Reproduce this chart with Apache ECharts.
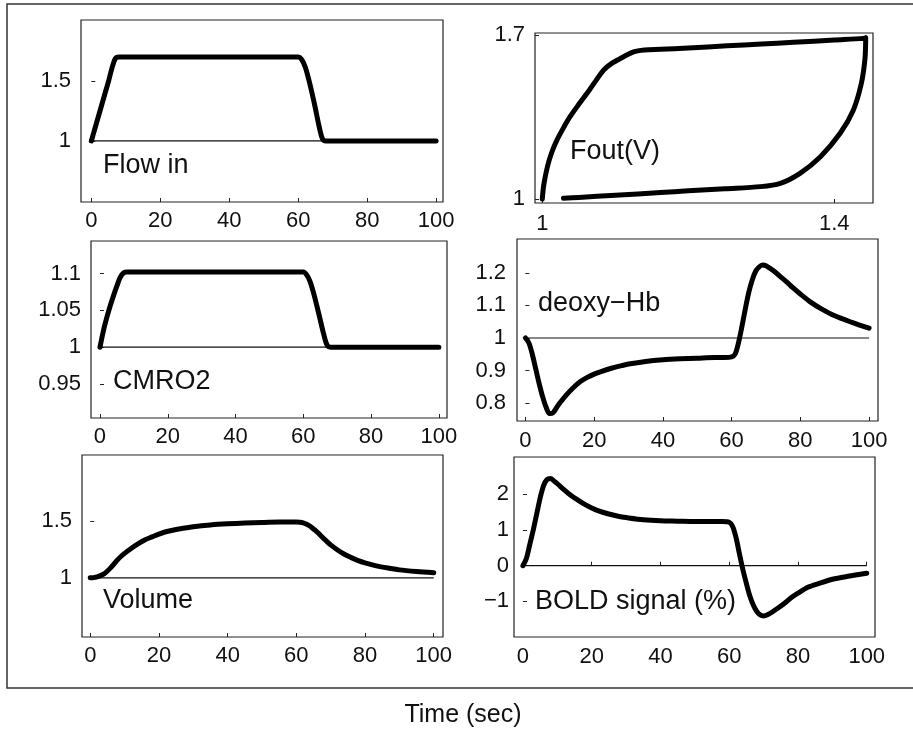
<!DOCTYPE html>
<html><head><meta charset="utf-8">
<script src="https://cdn.jsdelivr.net/npm/echarts@6/dist/echarts.min.js"></script>
<style>html,body{margin:0;padding:0;background:#fff}#c{width:913px;height:732px}</style>
</head><body><div id="c"></div>
<script>
// ---- data ----
const time = [0,1,2,3,4,5,6,7,8,9,10,12,14,16,18,20,22,25,28,30,35,40,45,50,55,58,60,61,62,63,64,65,66,67,68,69,70,72,74,76,78,80,83,86,90,95,100];
const flowIn = [1.0,1.10,1.20,1.30,1.40,1.50,1.61,1.69,1.70,1.70,1.70,1.70,1.70,1.70,1.70,1.70,1.70,1.70,1.70,1.70,1.70,1.70,1.70,1.70,1.70,1.70,1.70,1.68,1.62,1.52,1.40,1.27,1.13,1.02,1.0,1.0,1.0,1.0,1.0,1.0,1.0,1.0,1.0,1.0,1.0,1.0,1.0];
const cmro2 = [1.0,1.022,1.04,1.056,1.07,1.083,1.095,1.101,1.102,1.102,1.102,1.102,1.102,1.102,1.102,1.102,1.102,1.102,1.102,1.102,1.102,1.102,1.102,1.102,1.102,1.102,1.102,1.098,1.089,1.074,1.056,1.037,1.018,1.003,1.0,1.0,1.0,1.0,1.0,1.0,1.0,1.0,1.0,1.0,1.0,1.0,1.0];
const volume = [1.0,1.002,1.008,1.02,1.035,1.06,1.09,1.125,1.16,1.19,1.215,1.26,1.30,1.335,1.36,1.385,1.405,1.425,1.44,1.45,1.465,1.475,1.482,1.487,1.49,1.49,1.49,1.489,1.484,1.472,1.454,1.43,1.405,1.375,1.345,1.317,1.29,1.245,1.207,1.178,1.152,1.132,1.108,1.09,1.07,1.055,1.044];
const deoxyHb = [1.0,0.985,0.95,0.905,0.86,0.82,0.788,0.768,0.77,0.785,0.80,0.826,0.848,0.866,0.879,0.889,0.897,0.907,0.915,0.92,0.928,0.933,0.936,0.938,0.94,0.94,0.942,0.95,0.985,1.035,1.09,1.14,1.178,1.205,1.218,1.224,1.222,1.208,1.19,1.172,1.153,1.135,1.11,1.09,1.068,1.048,1.03];
const bold = [0,0.2,0.6,1.0,1.45,1.9,2.25,2.42,2.45,2.38,2.3,2.13,1.97,1.84,1.72,1.62,1.54,1.45,1.38,1.35,1.29,1.26,1.25,1.24,1.24,1.24,1.22,1.1,0.78,0.32,-0.12,-0.5,-0.85,-1.1,-1.28,-1.38,-1.41,-1.33,-1.2,-1.06,-0.9,-0.77,-0.6,-0.5,-0.38,-0.29,-0.21];
const foutV = [1.0,1.002,1.007,1.013,1.02,1.03,1.038,1.05,1.061,1.072,1.084,1.095,1.107,1.125,1.14,1.162,1.2,1.253,1.3,1.344,1.4,1.44,1.443,1.442,1.437,1.426,1.408,1.381,1.353,1.326,1.299,1.25,1.2,1.162,1.1,1.05,1.029];
const foutF = [1.0,1.06,1.138,1.2,1.252,1.31,1.352,1.405,1.451,1.5,1.551,1.58,1.601,1.629,1.637,1.64,1.646,1.655,1.663,1.67,1.68,1.687,1.69,1.60,1.494,1.38,1.281,1.181,1.11,1.067,1.053,1.044,1.035,1.028,1.016,1.007,1.003];
const timeTicks = [0,20,40,60,80,100];
const flowTicks = [1,1.5];
const cmroTicks = [0.95,1,1.05,1.1];
const deoxyTicks = [0.8,0.9,1,1.1,1.2];
const volTicks = [1,1.5];
const boldTicks = [-1,0,1,2];
const foutXTicks = [1,1.4];
const foutYTicks = [1,1.7];
const baseSpan = [0,100];
const panelNames = ['Flow in','Fout(V)','CMRO2','deoxy\u2212Hb','Volume','BOLD signal (%)'];
const xTitle = 'Time (sec)';

// ---- layout ----
const FONT = '"Liberation Sans", Arial, Helvetica, sans-serif';
const panels = [
  {grid:{left:81,top:20,width:362,height:182}, xr:[-3,102], yr:[0.49,2.01], xt:timeTicks, yt:flowTicks, ys:time.map((x,i)=>[x,flowIn[i]]), base:1, lx:103, ly:167, ym:10, xm:8},
  {grid:{left:535,top:33,width:338,height:170}, xr:[0.99,1.453], yr:[0.983,1.71], xt:foutXTicks, yt:foutYTicks, ys:foutV.map((x,i)=>[x,foutF[i]]), base:null, lx:570, ly:153, ym:10, xm:10},
  {grid:{left:91,top:241,width:356,height:177}, xr:[-2.65,102.4], yr:[0.904,1.144], xt:timeTicks, yt:cmroTicks, ys:time.map((x,i)=>[x,cmro2[i]]), base:1, lx:113, ly:383, ym:10, xm:8},
  {grid:{left:517,top:239,width:361,height:182}, xr:[-2.45,102.6], yr:[0.745,1.304], xt:timeTicks, yt:deoxyTicks, ys:time.map((x,i)=>[x,deoxyHb[i]]), base:1, lx:538, ly:305, ym:11, xm:9},
  {grid:{left:82,top:455,width:361,height:182}, xr:[-2.4,102.7], yr:[0.48,2.08], xt:timeTicks, yt:volTicks, ys:time.map((x,i)=>[x,volume[i]]), base:1, lx:103, ly:602, ym:10, xm:8},
  {grid:{left:514,top:457,width:361,height:180}, xr:[-2.6,102.4], yr:[-2.0,3.05], xt:timeTicks, yt:boldTicks, ys:time.map((x,i)=>[x,bold[i]]), base:0, lx:535, ly:603, ym:5, xm:9}
];

const fmt = v => String(v).replace('-', '\u2212');
const grid=[], xAxis=[], yAxis=[], series=[], graphic=[];
panels.forEach((p,i)=>{
  grid.push(Object.assign({show:true, borderColor:'#222', borderWidth:1.2, backgroundColor:'#fff'}, p.grid));
  xAxis.push({type:'value', gridIndex:i, min:p.xr[0], max:p.xr[1],
    axisLine:{show:false}, splitLine:{show:false},
    axisTick:{inside:true, length:4, lineStyle:{color:'#222'}, customValues:p.xt},
    axisLabel:{customValues:p.xt, formatter:fmt, color:'#111', fontSize:22, fontFamily:FONT, margin:p.xm}});
  yAxis.push({type:'value', gridIndex:i, min:p.yr[0], max:p.yr[1],
    axisLine:{show:false}, splitLine:{show:false},
    axisTick:{inside:true, length:4, lineStyle:{color:'#222'}, customValues:p.yt},
    axisLabel:{customValues:p.yt, formatter:fmt, color:'#111', fontSize:22, fontFamily:FONT, margin:p.ym}});
  if (p.base !== null) {
    series.push({type:'line', xAxisIndex:i, yAxisIndex:i, data:baseSpan.map(x=>[x,p.base]), showSymbol:false, silent:true,
      lineStyle:{color:'#111', width:1.2}, z:2});
  }
  series.push({type:'line', xAxisIndex:i, yAxisIndex:i, data:p.ys, showSymbol:false, smooth:0.3, silent:true,
    lineStyle:{color:'#000', width:5, cap:'round', join:'round'}, z:3});
  graphic.push({type:'text', left:p.lx, top:p.ly-15, style:{text:panelNames[i], font:'27px '+FONT, fill:'#111'}, z:10});
});
graphic.push({type:'rect', shape:{x:7,y:4,width:960,height:684}, style:{fill:'none', stroke:'#333', lineWidth:1.5}, z:-1});
graphic.push({type:'text', x:463, y:715, style:{text:xTitle, font:'25px '+FONT, fill:'#111', textAlign:'center', textVerticalAlign:'middle'}, z:10});

const chart = echarts.init(document.getElementById('c'), null, {renderer:'canvas'});
chart.setOption({animation:false, backgroundColor:'#fff', grid, xAxis, yAxis, series, graphic});
</script></body></html>
